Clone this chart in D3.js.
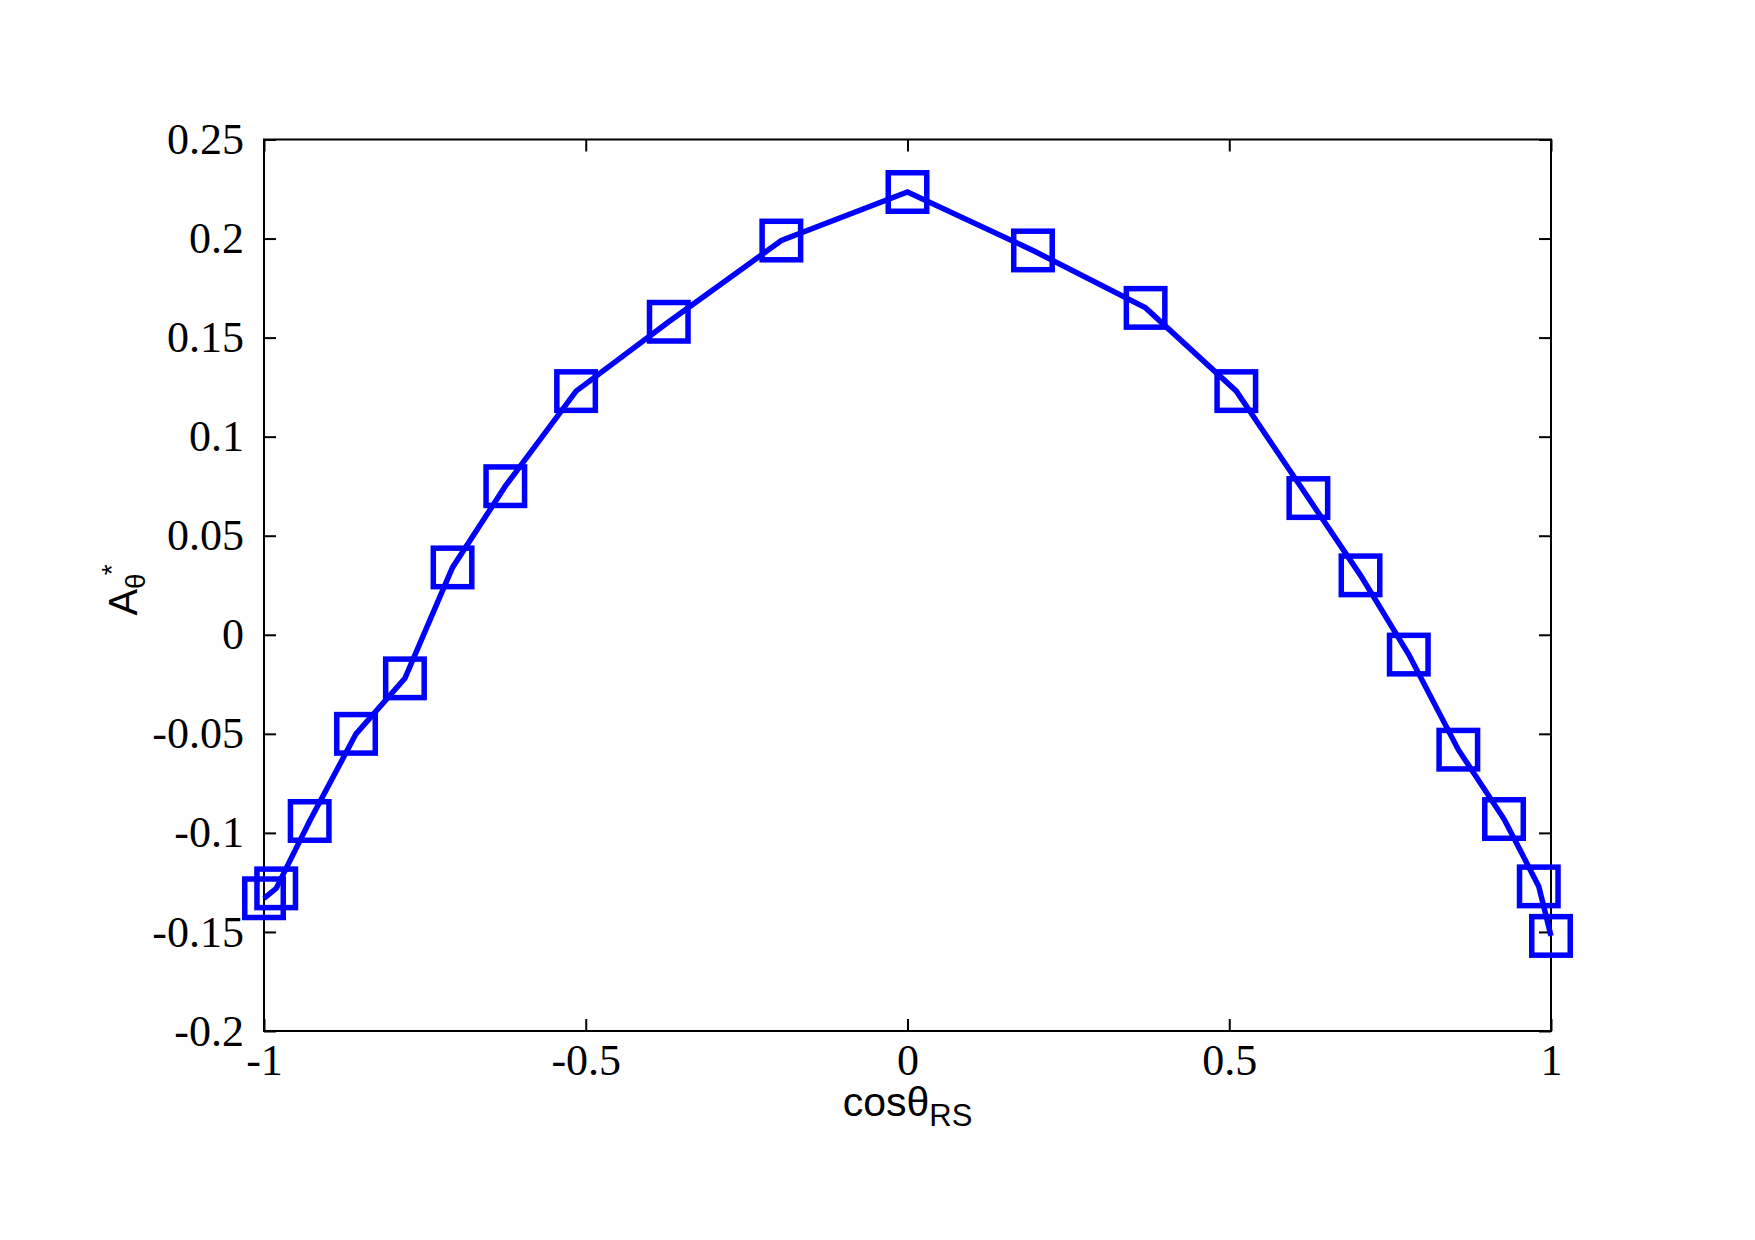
<!DOCTYPE html>
<html>
<head>
<meta charset="utf-8">
<script src="https://cdn.jsdelivr.net/npm/d3@7"></script>
<style>
  body { margin: 0; background: #fff; }
  .tick text { font-family: "Liberation Serif", "Times New Roman", serif; font-size: 44px; fill: #000; }
</style>
</head>
<body>
<div id="chart"></div>
<script>
// values
var cosTheta = [-1, -0.981, -0.929, -0.857, -0.781, -0.707, -0.625, -0.515, -0.371, -0.196, 0,
                0.195, 0.370, 0.511, 0.623, 0.704, 0.779, 0.856, 0.927, 0.981, 1.0]
var aTheta = [-0.133, -0.128, -0.094, -0.050, -0.022, 0.034, 0.075, 0.123, 0.158, 0.199, 0.2235,
              0.194, 0.165, 0.123, 0.069, 0.030, -0.010, -0.058, -0.093, -0.127, -0.152]

var xTicks = [-1, -0.5, 0, 0.5, 1]
var xTickLabels = ["-1", "-0.5", "0", "0.5", "1"]
var yTicks = [-0.2, -0.15, -0.1, -0.05, 0, 0.05, 0.1, 0.15, 0.2, 0.25]
var yTickLabels = ["-0.2", "-0.15", "-0.1", "-0.05", "0", "0.05", "0.1", "0.15", "0.2", "0.25"]

var points = cosTheta.map(function(c, i) { return {x: c, y: aTheta[i]} })

// set the dimensions and margins of the graph
var margin = {top: 139.5, right: 204, bottom: 209, left: 264},
    W = 1755, H = 1240,
    width = W - margin.left - margin.right,
    height = H - margin.top - margin.bottom;

var svg = d3.select("#chart")
  .append("svg")
    .attr("width", W)
    .attr("height", H)
    .style("background", "#fff")
  .append("g")
    .attr("transform", "translate(" + margin.left + "," + margin.top + ")");

var x = d3.scaleLinear().domain([-1, 1]).range([0, width])
var y = d3.scaleLinear().domain([-0.2, 0.25]).range([height, 0])

// bottom axis
var gx = svg.append("g")
  .attr("transform", "translate(0," + height + ")")
  .call(d3.axisBottom(x).tickValues(xTicks)
    .tickFormat(function(d, i) { return xTickLabels[i] })
    .tickSize(-12).tickSizeOuter(0).tickPadding(20))
gx.selectAll("text").attr("dy", "0.71em").attr("y", 13)

// left axis
svg.append("g")
  .call(d3.axisLeft(y).tickValues(yTicks)
    .tickFormat(function(d, i) { return yTickLabels[i] })
    .tickSize(-12).tickSizeOuter(0).tickPadding(20))

// mirrored ticks top / right
svg.append("g")
  .call(d3.axisTop(x).tickValues(xTicks).tickFormat("").tickSize(-12).tickSizeOuter(0))
svg.append("g")
  .attr("transform", "translate(" + width + ",0)")
  .call(d3.axisRight(y).tickValues(yTicks).tickFormat("").tickSize(-12).tickSizeOuter(0))

svg.selectAll(".domain").remove()
svg.selectAll(".tick line").attr("stroke", "#000").attr("stroke-width", 2)

svg.append("rect")
  .attr("width", width).attr("height", height)
  .attr("fill", "none").attr("stroke", "#000").attr("stroke-width", 2)

// the line
svg.append("path")
  .datum(points)
  .attr("fill", "none")
  .attr("stroke", "#0000ff")
  .attr("stroke-width", 5.5)
  .attr("stroke-linejoin", "miter")
  .attr("d", d3.line()
    .x(function(d) { return x(d.x) })
    .y(function(d) { return y(d.y) }))

// square markers
var s = 38.5
svg.selectAll("rect.mk")
  .data(points)
  .enter().append("rect")
    .attr("class", "mk")
    .attr("x", function(d) { return x(d.x) - s / 2 })
    .attr("y", function(d) { return y(d.y) - s / 2 })
    .attr("width", s).attr("height", s)
    .attr("fill", "none")
    .attr("stroke", "#0000ff")
    .attr("stroke-width", 5.5)

// axis labels
var xl = svg.append("text")
  .attr("x", width / 2)
  .attr("y", 1116 - margin.top)
  .attr("text-anchor", "middle")
  .style("font-family", "'Liberation Sans', Arial, sans-serif")
  .style("font-size", "41px")
xl.append("tspan").text("cos\u03b8")
xl.append("tspan").attr("dy", 10).style("font-size", "31px").text("RS")

var yl = svg.append("text")
  .attr("transform", "translate(" + (137 - margin.left) + "," + (590 - margin.top) + ") rotate(-90)")
  .attr("text-anchor", "middle")
  .style("font-family", "'Liberation Sans', Arial, sans-serif")
  .style("font-size", "40px")
yl.append("tspan").text("A")
yl.append("tspan").attr("dy", 8).style("font-size", "28px").text("\u03b8")
yl.append("tspan").attr("dy", -24).attr("dx", -2).style("font-size", "28px").text("*")
</script>
</body>
</html>
